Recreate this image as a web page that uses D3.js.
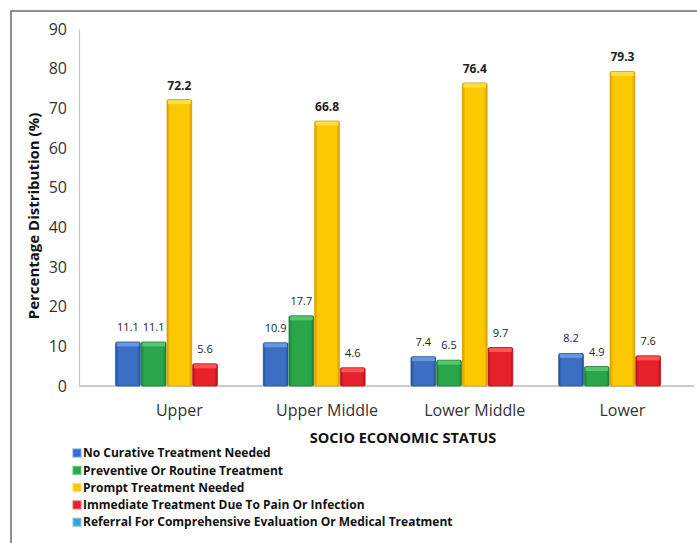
<!DOCTYPE html>
<html>
<head>
<meta charset="utf-8">
<script src="https://cdn.jsdelivr.net/npm/d3@7"></script>
<style>
  html, body { margin: 0; padding: 0; background: #fff; }
  svg { display: block; }
</style>
</head>
<body>
<div id="chart"></div>
<script>
// Socio-economic groups on the x axis
const categories = ["Upper", "Upper Middle", "Lower Middle", "Lower"];

// Treatment-need series (percent per group)
const seriesNames = [
  "No Curative Treatment Needed",
  "Preventive Or Routine Treatment",
  "Prompt Treatment Needed",
  "Immediate Treatment Due To Pain Or Infection",
  "Referral For Comprehensive Evaluation Or Medical Treatment"
];
const noCurative = [11.1, 10.9, 7.4, 8.2];
const preventive = [11.1, 17.7, 6.5, 4.9];
const prompt     = [72.2, 66.8, 76.4, 79.3];
const immediate  = [5.6, 4.6, 9.7, 7.6];
const referral   = [0, 0, 0, 0];

const yTicks = [0, 10, 20, 30, 40, 50, 60, 70, 80, 90];

const seriesValues = [noCurative, preventive, prompt, immediate, referral];
const colors = [
  { base: "#3b6fc4", light: "#6d9be0", dark: "#24509a" },
  { base: "#2aa64a", light: "#5cc970", dark: "#1a7d34" },
  { base: "#fcc800", light: "#ffe04a", dark: "#d89c00" },
  { base: "#e8202a", light: "#ff5a5a", dark: "#b81018" },
  { base: "#3aa3d6", light: "#7cc8ec", dark: "#1f7aa8" }
];

const W = 697, H = 543;
const svg = d3.select("#chart").append("svg")
  .attr("width", W).attr("height", H);

const defs = svg.append("defs");
colors.forEach((c, i) => {
  const g = defs.append("linearGradient")
    .attr("id", "barGrad" + i)
    .attr("x1", "0").attr("y1", "0").attr("x2", "1").attr("y2", "0");
  g.append("stop").attr("offset", "0").attr("stop-color", c.dark);
  g.append("stop").attr("offset", "0.12").attr("stop-color", c.base);
  g.append("stop").attr("offset", "0.5").attr("stop-color", c.base);
  g.append("stop").attr("offset", "0.88").attr("stop-color", c.base);
  g.append("stop").attr("offset", "1").attr("stop-color", c.dark);
});

// Outer frame
svg.append("rect")
  .attr("x", 11).attr("y", 11)
  .attr("width", W + 20).attr("height", H + 20)
  .attr("fill", "none").attr("stroke", "#6a6a6a").attr("stroke-width", 1.5);

const plotLeft = 79, plotRight = 694;
const y = d3.scaleLinear().domain([0, 90]).range([386, 29]);

const x0 = d3.scaleBand()
  .domain(categories)
  .range([105.5, 696.3])
  .paddingInner(0.13)
  .paddingOuter(0.065);

const x1 = d3.scaleBand()
  .domain(d3.range(seriesNames.length))
  .range([0, x0.bandwidth()]);

// Y axis
const yAxis = d3.axisLeft(y).tickValues(yTicks).tickSize(0).tickPadding(12);
const yg = svg.append("g").attr("transform", `translate(${plotLeft},0)`).call(yAxis);
yg.select(".domain").attr("stroke", "#c8c8c8").attr("stroke-width", 1.2);
yg.selectAll("text")
  .attr("font-family", "'Open Sans', sans-serif")
  .attr("font-size", 16)
  .attr("fill", "#333");

// Baseline
svg.append("line")
  .attr("x1", plotLeft).attr("x2", plotRight)
  .attr("y1", y(0)).attr("y2", y(0))
  .attr("stroke", "#b8b8b8").attr("stroke-width", 1.5);

// Bars
const groups = svg.append("g").selectAll("g")
  .data(categories)
  .join("g")
  .attr("transform", d => `translate(${x0(d)},0)`);

groups.each(function(cat, ci) {
  const g = d3.select(this);
  seriesValues.forEach((vals, si) => {
    const v = vals[ci];
    if (v <= 0) return;
    const bx = x1(si), bw = x1.bandwidth();
    const top = y(v), h = y(0) - y(v);
    g.append("rect")
      .attr("x", bx + 0.5).attr("y", top)
      .attr("width", bw - 1).attr("height", h)
      .attr("rx", 1.5)
      .attr("fill", `url(#barGrad${si})`)
      .attr("stroke", colors[si].dark).attr("stroke-width", 0.8);
    // light bevel on the top of each bar
    g.append("rect")
      .attr("x", bx + 1.5).attr("y", top + 0.5)
      .attr("width", bw - 3).attr("height", Math.min(4, h - 1))
      .attr("fill", colors[si].light).attr("opacity", 0.9);
    const big = si === 2;
    g.append("text")
      .attr("x", bx + bw / 2)
      .attr("y", top - (big ? 10 : 11))
      .attr("text-anchor", "middle")
      .attr("font-family", "'Open Sans', sans-serif")
      .attr("font-size", big ? 12 : 11)
      .attr("font-weight", big ? 700 : 400)
      .attr("fill", "#222")
      .text(v.toFixed(1));
  });
});

// Category labels
svg.append("g").selectAll("text")
  .data(categories)
  .join("text")
  .attr("x", d => x0(d) + x0.bandwidth() / 2)
  .attr("y", 416)
  .attr("text-anchor", "middle")
  .attr("font-family", "'Open Sans', sans-serif")
  .attr("font-size", 16)
  .attr("fill", "#333")
  .text(d => d);

// Axis titles
svg.append("text")
  .attr("x", 403).attr("y", 443)
  .attr("text-anchor", "middle")
  .attr("font-family", "'Open Sans', sans-serif")
  .attr("font-size", 14.5)
  .attr("font-weight", 700)
  .attr("fill", "#111")
  .text("SOCIO ECONOMIC STATUS");

svg.append("text")
  .attr("transform", "translate(39,216) rotate(-90)")
  .attr("text-anchor", "middle")
  .attr("font-family", "'Open Sans', sans-serif")
  .attr("font-size", 15)
  .attr("font-weight", 700)
  .attr("fill", "#111")
  .text("Percentage Distribution (%)");

// Legend
const legend = svg.append("g").attr("transform", "translate(73,453)");
const li = legend.selectAll("g")
  .data(seriesNames)
  .join("g")
  .attr("transform", (d, i) => `translate(0,${i * 17.3})`);
li.append("rect")
  .attr("x", 0).attr("y", -4).attr("width", 8).attr("height", 8)
  .attr("fill", (d, i) => colors[i].base)
  .attr("stroke", (d, i) => colors[i].light).attr("stroke-width", 1);
li.append("text")
  .attr("x", 10).attr("y", 0)
  .attr("dy", "0.35em")
  .attr("font-family", "'Open Sans', sans-serif")
  .attr("font-size", 12)
  .attr("font-weight", 700)
  .attr("fill", "#111")
  .text(d => d);
</script>
</body>
</html>
